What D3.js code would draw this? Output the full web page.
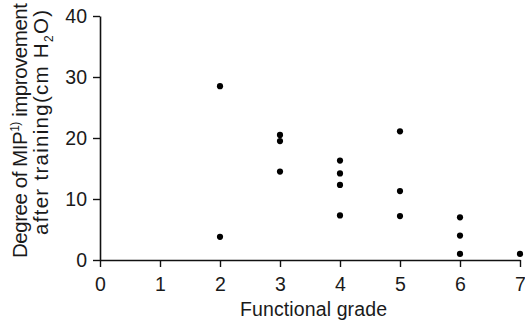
<!DOCTYPE html>
<html>
<head>
<meta charset="utf-8">
<script src="https://cdn.jsdelivr.net/npm/d3@7"></script>
<style>
  html, body { margin: 0; padding: 0; background: #fff; }
  svg { display: block; font-family: "Liberation Sans", Arial, Helvetica, sans-serif; }
</style>
</head>
<body>
<svg id="chart" width="525" height="326"></svg>
<script>
// Data
const grades = [2, 2, 3, 3, 3, 4, 4, 4, 4, 5, 5, 5, 6, 6, 6, 7];
const improvements = [28.5, 3.8, 20.5, 19.5, 14.5, 16.3, 14.2, 12.3, 7.3, 21.1, 11.3, 7.2, 7.0, 4.0, 1.0, 1.0];
const xTicks = [0, 1, 2, 3, 4, 5, 6, 7];
const yTicks = [0, 10, 20, 30, 40];
const xTitle = "Functional grade";

const svg = d3.select("#chart");
const x = d3.scaleLinear().domain([0, 7]).range([100, 520]);
const y = d3.scaleLinear().domain([0, 40]).range([260, 16]);

// X axis
const gx = svg.append("g").attr("transform", `translate(0,${y(0)})`)
  .call(d3.axisBottom(x).tickValues(xTicks).tickFormat(d3.format("d"))
        .tickSize(7).tickSizeOuter(0).tickPadding(10));
// Y axis
const gy = svg.append("g").attr("transform", `translate(${x(0)},0)`)
  .call(d3.axisLeft(y).tickValues(yTicks).tickFormat(d3.format("d"))
        .tickSize(7).tickSizeOuter(0).tickPadding(6));

[gx, gy].forEach(g => {
  g.select(".domain").attr("stroke", "#111").attr("stroke-width", 1.6);
  g.selectAll(".tick line").attr("stroke", "#111").attr("stroke-width", 1.4);
  g.selectAll(".tick text").attr("fill", "#1a1a1a")
    .style("font-size", "19.5px").style("font-family", '"Liberation Sans", Arial, sans-serif');
});

// Points
svg.append("g").selectAll("circle")
  .data(grades.map((g, i) => ({ g, v: improvements[i] })))
  .join("circle")
  .attr("cx", d => x(d.g))
  .attr("cy", d => y(d.v))
  .attr("r", 3.1)
  .attr("fill", "#000");

// X title
svg.append("text")
  .attr("x", 313.5).attr("y", 316)
  .attr("text-anchor", "middle")
  .attr("fill", "#1a1a1a")
  .style("font-size", "19.5px")
  .attr("textLength", 147).attr("lengthAdjust", "spacing")
  .text(xTitle);

// Y title (two lines, rotated)
const t1 = svg.append("text")
  .attr("transform", "translate(27,130.5) rotate(-90)")
  .attr("text-anchor", "middle")
  .attr("fill", "#1a1a1a")
  .style("font-size", "20.5px")
  .attr("textLength", 255).attr("lengthAdjust", "spacing");
t1.append("tspan").text("Degree of MIP");
t1.append("tspan").attr("dy", -8).style("font-size", "12px").text("1)");
t1.append("tspan").attr("dy", 8).text(" improvement");

const t2 = svg.append("text")
  .attr("transform", "translate(48,122.5) rotate(-90)")
  .attr("text-anchor", "middle")
  .attr("fill", "#1a1a1a")
  .style("font-size", "20.5px")
  .attr("textLength", 225).attr("lengthAdjust", "spacing");
t2.append("tspan").text("after training(cm H");
t2.append("tspan").attr("dy", 5).style("font-size", "12px").text("2");
t2.append("tspan").attr("dy", -5).text("O)");
</script>
</body>
</html>
